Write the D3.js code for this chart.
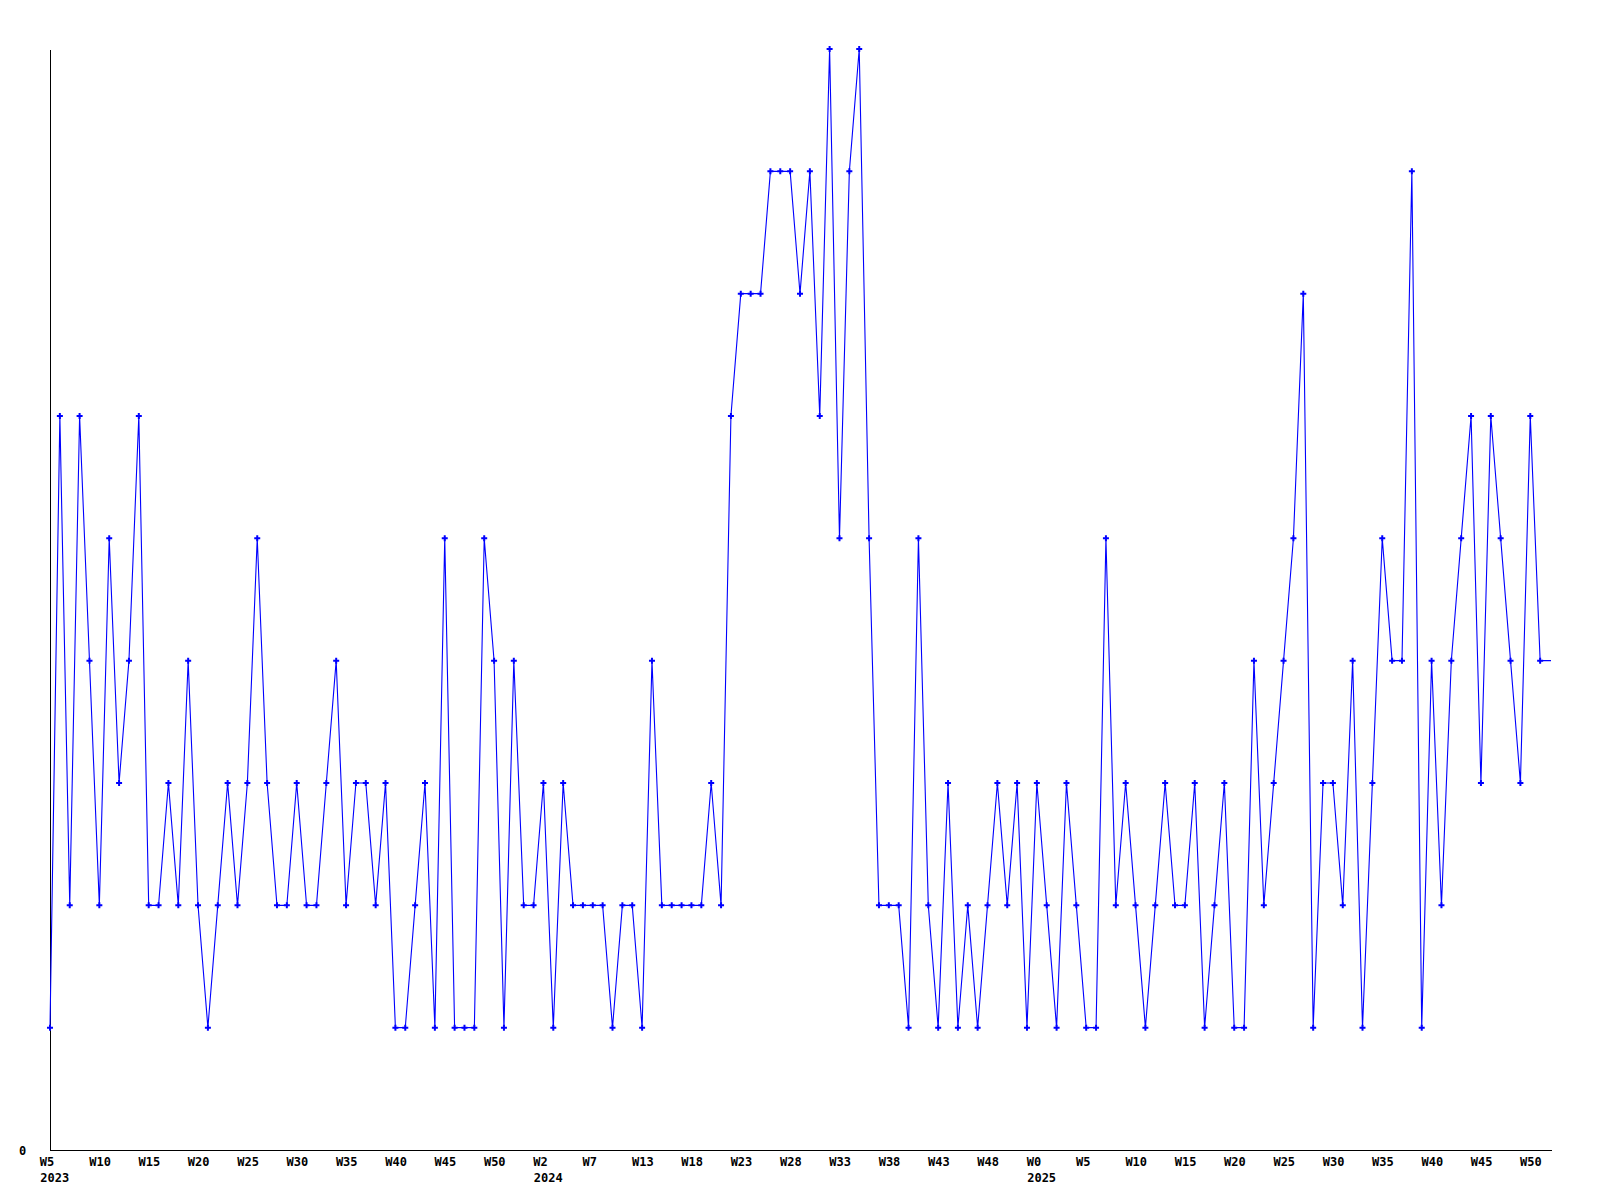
<!DOCTYPE html>
<html>
<head>
<meta charset="utf-8">
<script src="https://cdn.jsdelivr.net/npm/d3@7"></script>
<style>
  body { margin: 0; background: #fff; }
  text { font-family: "DejaVu Sans Mono", monospace; font-weight: bold; font-size: 12px; }
</style>
</head>
<body>
<script>
// weekly values, 2023 W5 onwards
var values = [1,6,2,6,4,2,5,3,4,6, 2,2,3,2,4,2,1,2,3,2, 3,5,3,2,2,3,2,2,3,4,
              2,3,3,2,3,1,1,2,3,1, 5,1,1,1,5,4,1,4,2,2, 3,1,3,2,2,2,2,1,2,2,
              1,4,2,2,2,2,2,3,2,6, 7,7,7,8,8,8,7,8,6,9, 5,8,9,5,2,2,2,1,5,2,
              1,3,1,2,1,2,3,2,3,1, 3,2,1,3,2,1,1,5,2,3, 2,1,2,3,2,2,3,1,2,3,
              1,1,4,2,3,4,5,7,1,3, 3,2,4,1,3,5,4,4,8,1, 4,2,4,5,6,3,6,5,4,3,
              6,4];

// tick labels along the bottom (one every 5 weeks)
var weekLabels = ["W5","W10","W15","W20","W25","W30","W35","W40","W45","W50",
                  "W2","W7","W13","W18","W23","W28","W33","W38","W43","W48",
                  "W0","W5","W10","W15","W20","W25","W30","W35","W40","W45","W50"];
var yearLabels = {0: "2023", 10: "2024", 20: "2025"};
var tickStart = -1.08;   // first tick, in weeks relative to first point
var yMax = 9;

var w = 1600, h = 1200;
var plotLeft = 50, plotRight = 1551, plotTop = 49, plotBottom = 1150;

var svg = d3.select("body").append("svg")
    .attr("width", w)
    .attr("height", h);

var x = d3.scaleLinear().domain([0, 152.1]).range([plotLeft, plotRight]);
var y = d3.scaleLinear().domain([0, yMax]).range([plotBottom, plotTop]);

var tickPos = weekLabels.map(function(d, i) { return tickStart + 5 * i; });

// x axis
var xAxis = svg.append("g")
    .attr("transform", "translate(0," + plotBottom + ")")
    .call(d3.axisBottom(x)
        .tickValues(tickPos)
        .tickFormat(function(d, i) { return weekLabels[i]; })
        .tickSize(0)
        .tickSizeOuter(0));
xAxis.select(".domain").attr("stroke", "#000").attr("shape-rendering", "crispEdges");
xAxis.selectAll(".tick text")
    .attr("text-anchor", "start")
    .attr("y", 16)
    .attr("dy", null)
    .attr("fill", "#000")
    .each(function(d, i) {
        if (yearLabels[i]) {
            d3.select(this.parentNode).append("text")
                .attr("text-anchor", "start")
                .attr("x", 0.5)
                .attr("y", 32)
                .attr("fill", "#000")
                .text(yearLabels[i]);
        }
    });

// y axis, only the zero label
var yAxis = svg.append("g")
    .attr("transform", "translate(" + plotLeft + ",0)")
    .call(d3.axisLeft(y).tickValues([0]).tickSize(0).tickSizeOuter(0));
yAxis.select(".domain").attr("stroke", "#000").attr("shape-rendering", "crispEdges");
yAxis.selectAll(".tick text")
    .attr("text-anchor", "start")
    .attr("x", -31)
    .attr("y", 4.5)
    .attr("dy", null)
    .attr("fill", "#000");

svg.selectAll("text").style("font-family", "DejaVu Sans Mono").style("font-weight", "bold").style("font-size", "12px");

// line, continued flat to the end of the axis
var linePts = values.map(function(v, i) { return [i, v]; });
linePts.push([x.domain()[1], values[values.length - 1]]);

var line = d3.line()
    .x(function(d) { return x(d[0]); })
    .y(function(d) { return y(d[1]); });

svg.append("path")
    .datum(linePts)
    .attr("d", line)
    .attr("fill", "none")
    .attr("stroke", "#0000ff")
    .attr("stroke-width", 1.1);

svg.selectAll(".pt")
    .data(values)
    .enter()
    .append("path")
    .attr("class", "pt")
    .attr("d", d3.symbol().type(d3.symbolCross).size(20))
    .attr("transform", function(d, i) { return "translate(" + x(i) + "," + y(d) + ")"; })
    .attr("fill", "#0000ff");
</script>
</body>
</html>
